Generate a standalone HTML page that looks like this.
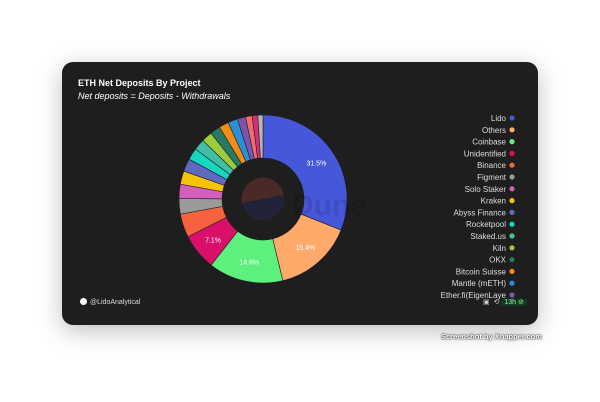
<!DOCTYPE html>
<html><head><meta charset="utf-8"><style>
body{margin:0;width:600px;height:402px;background:#fff;font-family:"Liberation Sans",sans-serif;position:relative;overflow:hidden}
#card{position:absolute;left:62px;top:62px;width:476px;height:263px;background:#1e1e1f;border-radius:11px;box-shadow:0 6px 24px rgba(0,0,0,.25)}
.t{position:absolute;color:#fff;white-space:nowrap}
</style></head><body>
<div id="card">
<div class="t" style="left:16px;top:16px;font-size:9px;font-weight:bold">ETH Net Deposits By Project</div>
<div class="t" style="left:16px;top:29px;font-size:9px;font-style:italic">Net deposits = Deposits - Withdrawals</div>
<div class="t" style="left:18px;top:236px;font-size:7px;color:#ddd"><span style="display:inline-block;width:7px;height:7px;border-radius:50%;background:#fff;vertical-align:-1px;margin-right:3px"></span>@LidoAnalytical</div>
<div class="t" style="left:421px;top:236px;font-size:7px;color:#ccc">▣ &nbsp;⟲ <span style="background:#103a22;color:#8ef0a8;padding:0 3px;border-radius:2px">13h ⊘</span></div>
</div>
<svg id="chart" width="600" height="402" style="position:absolute;left:0;top:0"></svg>
<div class="t" style="left:441px;top:332px;font-size:7.5px;font-weight:bold;color:#fff;text-shadow:0 0 2px #333,0 0 1px #000">Screenshot by Xnapper.com</div>
<script>
const labels=["Lido","Others","Coinbase","Unidentified","Binance","Figment","Solo Staker","Kraken","Abyss Finance","Rocketpool","Staked.us","Kiln","OKX","Bitcoin Suisse","Mantle (mETH)","Ether.fi(EigenLaye","Other A","Other B","Other C"];
const values=[31.5,15.4,14.6,7.1,4.6,3.0,2.8,2.6,2.5,2.3,2.2,2.1,2.0,1.9,1.9,1.6,1.3,1.1,1.0];
const colors=["#4657d9","#ffa96b","#5ef07c","#d90f6a","#f5623e","#9a9a9a","#d35fbd","#f7c20a","#5e6abd","#16d6bf","#3fbfa5","#9ccb3c","#247a64","#f28c16","#2a8fd6","#7a55b0","#f26b6b","#d4307a","#b8b8b0"];
const shown=["31.5%","15.4%","14.6%","7.1%"];
const NS="http://www.w3.org/2000/svg",svg=document.getElementById('chart');
const cx=263,cy=199,R=84,r=41;
const total=values.reduce((a,b)=>a+b,0);
function ang(v){return v/total*Math.PI*2;}
function pt(a,rad){return [cx+rad*Math.sin(a),cy-rad*Math.cos(a)];}
let a0=0;
values.forEach((v,i)=>{
 const a1=a0+ang(v),lg=(a1-a0)>Math.PI?1:0;
 const p1=pt(a0,R),p2=pt(a1,R),p3=pt(a1,r),p4=pt(a0,r);
 const p=document.createElementNS(NS,'path');
 p.setAttribute('d',`M${p1}A${R},${R} 0 ${lg} 1 ${p2}L${p3}A${r},${r} 0 ${lg} 0 ${p4}Z`);
 p.setAttribute('fill',colors[i]);p.setAttribute('stroke','#1e1e1f');p.setAttribute('stroke-width','0.6');
 
 
 svg.appendChild(p);
 if(i<shown.length){
  const m=pt((a0+a1)/2,(R+r)/2+2);
  const t=document.createElementNS(NS,'text');
  t.setAttribute('x',m[0]);t.setAttribute('y',m[1]+2.5);t.setAttribute('text-anchor','middle');
  t.setAttribute('font-size','7');t.setAttribute('fill','#fff');t.textContent=shown[i];
  
  
  svg.appendChild(t);
 }
 a0=a1;
});
const wm=document.createElementNS(NS,'g');


wm.innerHTML=`<path d="M${cx-21},${cy+4}A21,21 0 1 1 ${cx+21},${cy-4}Z" fill="#4a2a26"/><path d="M${cx-21},${cy+4}L${cx+21},${cy-4}A21,21 0 0 1 ${cx-21},${cy+4}Z" fill="#222238"/><text x="${cx+29}" y="${cy+16}" font-size="30" font-weight="bold" fill="#000" fill-opacity="0.1">Dune</text>`;
svg.appendChild(wm);
labels.slice(0,16).forEach((l,i)=>{
 const y=118+i*11.8;
 const t=document.createElementNS(NS,'text');
 t.setAttribute('x',506);t.setAttribute('y',y+3);t.setAttribute('text-anchor','end');
 t.setAttribute('font-size','8');t.setAttribute('fill','#ddd');t.textContent=l;
 
 
 svg.appendChild(t);
 const c=document.createElementNS(NS,'circle');
 c.setAttribute('cx',512);c.setAttribute('cy',y);c.setAttribute('r',2.6);c.setAttribute('fill',colors[i]);
 
 
 svg.appendChild(c);
});
</script>
</body></html>
